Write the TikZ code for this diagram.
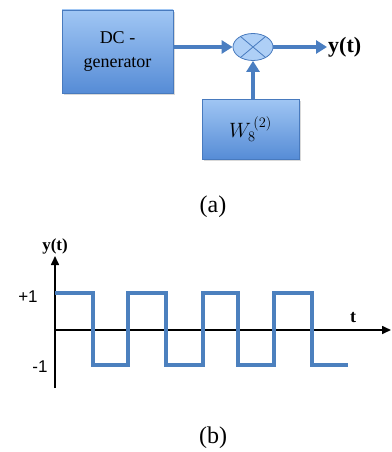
\documentclass[tikz,border=0pt]{standalone}
\usepackage{fontspec}
\setmainfont{Liberation Serif}
\setsansfont{Liberation Sans}
\usepackage{tikz}
\usetikzlibrary{shapes.geometric, arrows.meta, positioning, calc, shadows}

\definecolor{boxtop}{RGB}{160,198,244}
\definecolor{boxbot}{RGB}{86,140,214}
\definecolor{boxline}{RGB}{72,122,190}
\definecolor{flowblue}{RGB}{74,126,193}
\definecolor{waveblue}{RGB}{76,128,190}

\begin{document}
\begin{tikzpicture}[
    x=1pt,
    y=-1pt,
    block/.style={draw=boxline, line width=0.6pt, top color=boxtop, bottom color=boxbot,
        inner sep=0pt, align=center, font=\fontsize{18}{24}\selectfont,
        drop shadow={opacity=0.3, shadow xshift=1.5pt, shadow yshift=-2pt}},
    mixer/.style={ellipse, draw=boxline, line width=0.8pt, fill=boxtop!85!white,
        minimum width=40pt, minimum height=27pt, inner sep=0pt},
    flowarrow/.style={draw=flowblue, line width=4pt, -{Triangle[length=11pt, width=13pt]}},
    axis/.style={draw=black, line width=1.6pt, -{Triangle[length=9pt, width=8pt]}},
    wave/.style={draw=waveblue, line width=3.6pt},
    ticklabel/.style={font=\sffamily\fontsize{17}{20}\selectfont},
    caption/.style={font=\fontsize{24}{28}\selectfont}
]
    \useasboundingbox (0,0) rectangle (391,452);

    % --- (a) block diagram ---
    \node[block, minimum width=111pt, minimum height=83pt] (dcgen) at (117.5,51.5) {DC -\\generator};
    \node[mixer] (mult) at (253,47) {};
    \draw[boxline, line width=0.8pt] (mult.40) -- (mult.220) (mult.140) -- (mult.320);
    \node[block, minimum width=97pt, minimum height=60pt, font=\fontsize{20}{24}\selectfont] (walsh) at (250.5,129) {$W_8^{\,(2)}$};
    \node[anchor=west, inner sep=1pt, font=\bfseries\fontsize{22}{26}\selectfont] (yout) at (327,47) {y(t)};

    \draw[flowarrow] (dcgen.east |- mult) -- (mult.west);
    \draw[flowarrow] (walsh.north -| mult) -- (mult.south);
    \draw[flowarrow] (mult.east) -- (yout.west);

    \node[caption] (capa) at (213,207) {(a)};

    % --- (b) output signal ---
    \coordinate (origin) at (55,330);
    \coordinate (ytop) at (55,256);
    \coordinate (ybot) at (55,388);
    \coordinate (tend) at (391,330);
    \draw[axis] (ybot) -- (ytop);
    \draw[axis] (origin) -- (tend);
    \node[font=\bfseries\fontsize{17}{20}\selectfont] (ylabel) at (55,246) {y(t)};
    \node[font=\bfseries\fontsize{18}{20}\selectfont] (tlabel) at (353,318) {t};
    \node[ticklabel] (plusone) at (28,297) {+1};
    \node[ticklabel] (minusone) at (40,367) {-1};

    \draw[wave] (55,293) -- (93,293) -- (93,365) -- (128,365) -- (128,293) -- (166,293)
        -- (166,365) -- (203,365) -- (203,293) -- (238,293) -- (238,365) -- (274,365)
        -- (274,293) -- (312,293) -- (312,365) -- (348,365);

    \node[caption] (capb) at (213,438) {(b)};
\end{tikzpicture}
\end{document}
